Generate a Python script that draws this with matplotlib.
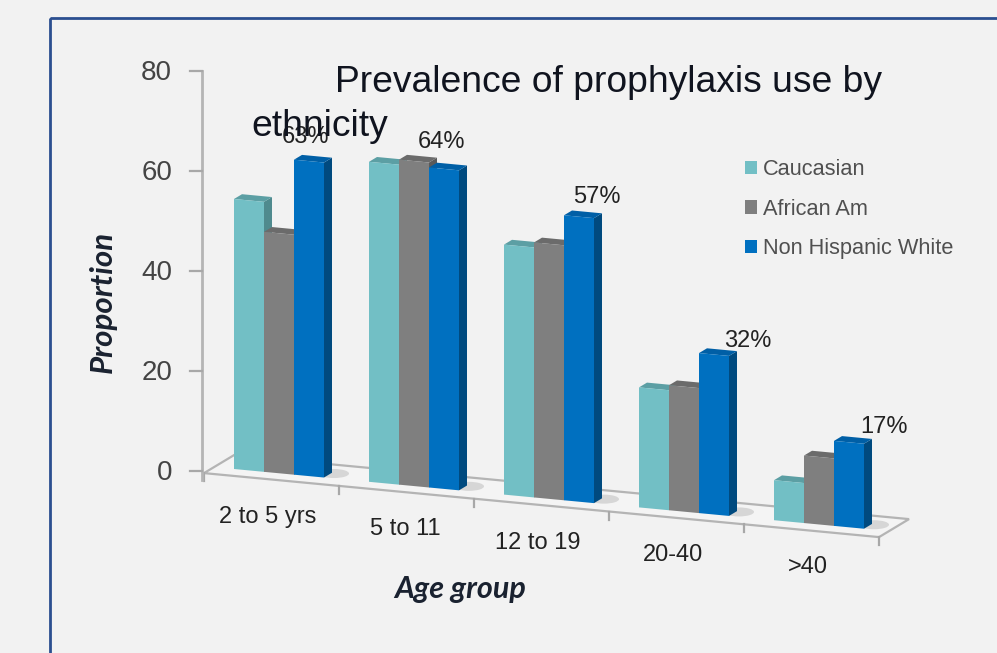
import matplotlib
matplotlib.use('Agg')
import matplotlib.pyplot as plt
from matplotlib.patches import Polygon, Rectangle, Ellipse, Patch

# Chart values
age_groups = ['2 to 5 yrs', '5 to 11', '12 to 19', '20-40', '>40']
caucasian = [54, 64, 50, 24, 8]
african_am = [48, 65, 51, 25, 13.5]
non_hispanic_white = [63, 64, 57, 32, 17]
y_ticks = [0, 20, 40, 60, 80]
series_names = ['Caucasian', 'African Am', 'Non Hispanic White']

# Colours for each series: front, top, side
colors = [('#72bfc5', '#5c9fa4', '#4f8a8e'),
          ('#7f7f7f', '#6b6b6b', '#5a5a5a'),
          ('#0070c0', '#005fa6', '#004a7f')]

bar_w = 30 / 135  # one bar in group units
depth = 8
floor_left, floor_right = -0.148, 4.852
floor_front, floor_back = -10, 20

# nudges for the value labels, in pixels from the top of each blue bar
label_dx = [11, 12, 33, 49, 50]
label_dy = [-23, -25, -18, -12, -14]
# category labels hang lower as the floor slopes away
cat_x = [268, 405, 538, 673, 808]
cat_y = [517, 529, 543, 555, 567]


def project(u, v=0, d=0):
    # group position, value and depth to oblique pixel coordinates
    x = 234 + 135 * u + d
    y = 469 + 12.8 * u - 5 * v - 0.6 * d
    return x, y


def draw_bar(ax, u, value, cols):
    front, top, side = cols
    r = u + bar_w
    ax.add_patch(Polygon([project(r, 0), project(r, value), project(r, value, depth), project(r, 0, depth)],
                         fc=side, ec='none'))
    ax.add_patch(Polygon([project(u, value), project(r, value), project(r, value, depth), project(u, value, depth)],
                         fc=top, ec='none'))
    ax.add_patch(Polygon([project(u, 0), project(r, 0), project(r, value), project(u, value)],
                         fc=front, ec='none'))


plt.rcParams['font.family'] = ['Liberation Sans', 'DejaVu Sans']
fig = plt.figure(figsize=(9.97, 6.53), dpi=100, facecolor='#f2f2f2')
ax = fig.add_axes([0, 0, 1, 1])
ax.set_xlim(0, 997)
ax.set_ylim(653, 0)
ax.axis('off')

# outer frame
ax.add_patch(Rectangle((50, 18), 1000, 700, fc='none', ec='#2b4f90', lw=2))

# floor
floor = [project(floor_left, 0, floor_front), project(floor_right, 0, floor_front),
         project(floor_right, 0, floor_back), project(floor_left, 0, floor_back)]
ax.add_patch(Polygon(floor, closed=True, fc='#f4f4f4', ec='#b4b4b4', lw=1.6))
for k in range(len(age_groups) + 1):
    x, y = project(floor_left + k, 0, floor_front)
    ax.plot([x, x], [y, y + 8], color='#a8a8a8', lw=1.6)

# y axis
ax.plot([202, 202], [71, 480], color='#b5b5b5', lw=2)
for t in y_ticks:
    y = 471 - 5 * t
    ax.plot([190, 202], [y, y], color='#a8a8a8', lw=1.6)
    ax.text(172, y + 2, str(t), ha='right', va='center', fontsize=20, color='#444444')

# bars
for i in range(len(age_groups)):
    sx, sy = project(i + 3 * bar_w, 0, 5)
    ax.add_patch(Ellipse((sx + 5, sy - 1), 30, 9, fc='#d6d6d6', ec='none'))
    for j, series in enumerate([caucasian, african_am, non_hispanic_white]):
        draw_bar(ax, i + j * bar_w, series[i], colors[j])

# value labels over the blue bars
for i, v in enumerate(non_hispanic_white):
    x, y = project(i + 2 * bar_w, v)
    ax.text(x + label_dx[i], y + label_dy[i], f'{v}%', ha='center', va='center', fontsize=17, color='#222222')

for i, name in enumerate(age_groups):
    ax.text(cat_x[i], cat_y[i], name, ha='center', va='center', fontsize=17, color='#222222')

ax.text(335, 92, 'Prevalence of prophylaxis use by', fontsize=26.8, color='#10141f', va='baseline')
ax.text(251, 136, 'ethnicity', fontsize=26.8, color='#10141f', va='baseline')

ax.text(460, 589, 'Age group', ha='center', va='center', fontsize=22, family='Lato',
        weight='bold', style='italic', color='#1a2230')
ax.text(103, 302, 'Proportion', ha='center', va='center', rotation=90, fontsize=22.5, family='Lato',
        weight='bold', style='italic', color='#1a2230')

handles = [Patch(fc=c[0], ec='none') for c in colors]
ax.legend(handles, series_names, loc='upper left', bbox_to_anchor=(0.747, 0.756), frameon=False,
          fontsize=15.7, labelcolor='#505050', handlelength=0.55, handleheight=0.55, handletextpad=0.3,
          labelspacing=0.84, borderpad=0, borderaxespad=0)

fig.savefig('out.png', dpi=100, facecolor=fig.get_facecolor())
